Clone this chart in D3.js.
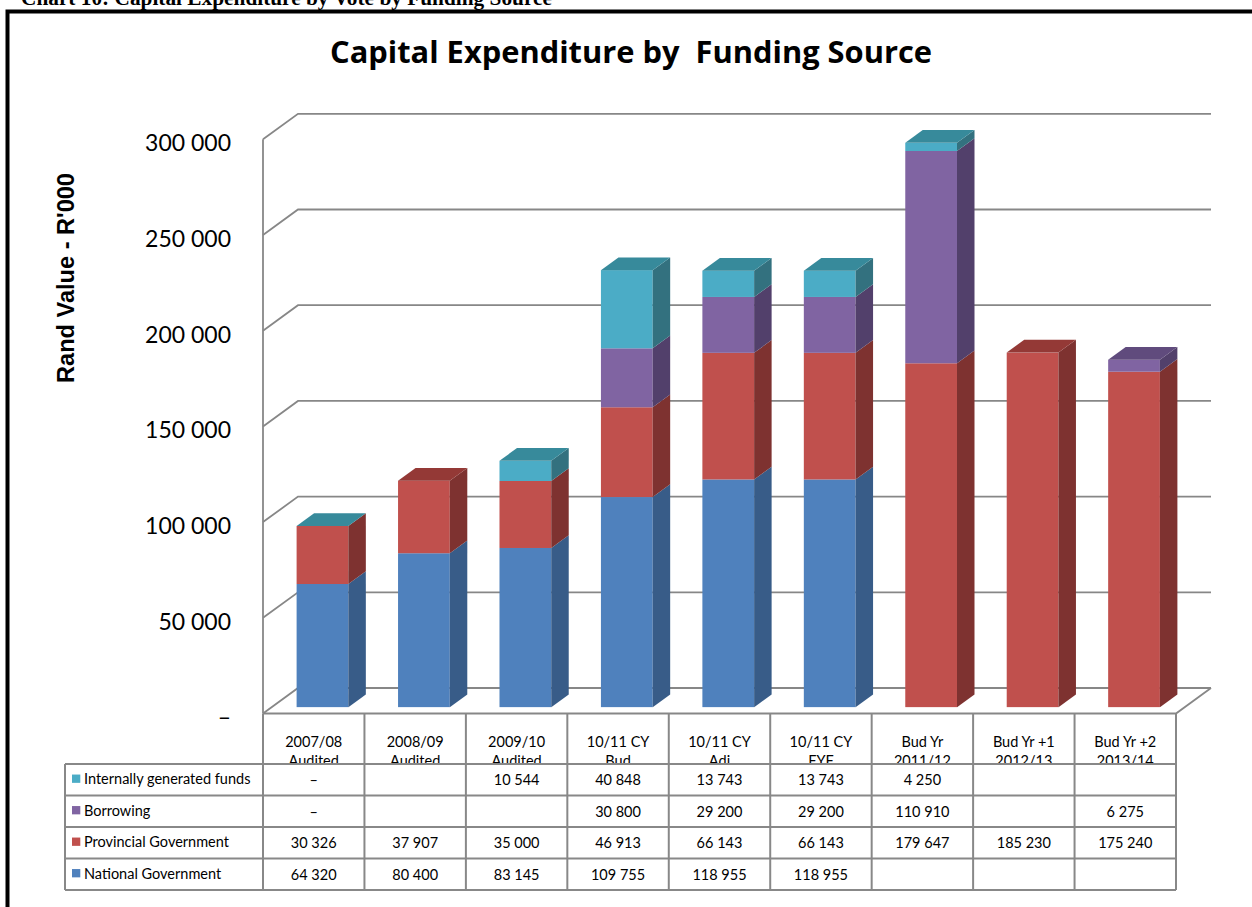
<!DOCTYPE html>
<html>
<head>
<meta charset="utf-8">
<script src="https://cdn.jsdelivr.net/npm/d3@7"></script>
<style>
  html, body { margin: 0; padding: 0; background: #fff; }
  svg { display: block; }
  text { font-family: Lato, "Open Sans", sans-serif; fill: #000; }
</style>
</head>
<body>
<svg id="chart" width="1252" height="907"></svg>
<script>
// ---- data (R'000) ----
const categories = [
  ["2007/08", "Audited"], ["2008/09", "Audited"], ["2009/10", "Audited"],
  ["10/11 CY", "Bud"], ["10/11 CY", "Adj"], ["10/11 CY", "FYF"],
  ["Bud Yr", "2011/12"], ["Bud Yr +1", "2012/13"], ["Bud Yr +2", "2013/14"]
];
const seriesNames = ["National Government", "Provincial Government", "Borrowing", "Internally generated funds"];
// null = blank cell, 0 = dash
const nationalGov   = [64320, 80400, 83145, 109755, 118955, 118955, null, null, null];
const provincialGov = [30326, 37907, 35000, 46913, 66143, 66143, 179647, 185230, 175240];
const borrowing     = [0, null, null, 30800, 29200, 29200, 110910, null, 6275];
const internalFunds = [0, null, 10544, 40848, 13743, 13743, 4250, null, null];
const yTicks = [0, 50000, 100000, 150000, 200000, 250000, 300000];

const seriesValues = [nationalGov, provincialGov, borrowing, internalFunds];
const palette = [
  { front: "#4F81BD", side: "#385C88", top: "#41699B" },
  { front: "#C0504D", side: "#7E3230", top: "#943936" },
  { front: "#8064A2", side: "#52406B", top: "#604B7D" },
  { front: "#4BACC6", side: "#33717F", top: "#378A9B" }
];

const svg = d3.select("#chart");
const n = categories.length;

// scale a text's font size so it spans the given width
function fitWidth(sel, w) {
  const len = sel.node().getComputedTextLength();
  const fs = parseFloat(sel.style("font-size"));
  sel.style("font-size", (fs * w / len).toFixed(2) + "px");
}

// plot geometry: front floor edge and 3-D depth offset
const X0 = 263, X1 = 1176, YB = 713.5, YT = 139.3;
const DX = 35, DY = -25.5;
const frontK = 0.25, backK = 0.75;

const x = d3.scaleBand().domain(d3.range(n)).range([X0, X1]).paddingInner(0.49).paddingOuter(0.245);
const col = d3.scaleBand().domain(d3.range(n)).range([X0, X1]);
const y = d3.scaleLinear().domain([0, 300000]).range([YB, YT]);
const num = v => v == null ? "" : v === 0 ? "\u2013" : d3.format(",")(v).replace(/,/g, " ");

// page frame and caption
const caption = svg.append("text").attr("x", 21).attr("y", 4.5)
  .style("font-family", "'Liberation Serif', 'Times New Roman', serif").style("font-weight", "bold").style("font-size", "20px")
  .text("Chart 10: Capital Expenditure by Vote by Funding Source");
fitWidth(caption, 531);
svg.append("rect").attr("x", 7.5).attr("y", 11.5).attr("width", 1400).attr("height", 1000)
  .attr("fill", "none").attr("stroke", "#000").attr("stroke-width", 4);

// title
const title = svg.append("text").attr("x", 631).attr("y", 63).attr("text-anchor", "middle")
  .style("font-family", "'Open Sans', sans-serif")
  .style("font-weight", "bold").style("font-size", "29px").style("white-space", "pre")
  .text("Capital Expenditure by  Funding Source");
fitWidth(title, 602);

// axis title
const yTitle = svg.append("text").attr("transform", "translate(74,278) rotate(-90)").attr("text-anchor", "middle")
  .style("font-family", "'Liberation Sans', Arial, sans-serif")
  .style("font-weight", "bold").style("font-size", "20px")
  .text("Rand Value - R'000");
fitWidth(yTitle, 210);

// walls and gridlines
const wall = svg.append("g").attr("fill", "none").attr("stroke", "#878787").attr("stroke-width", 1.8);
wall.selectAll("path.grid").data(yTicks).join("path").attr("class", "grid")
  .attr("d", t => `M${X0},${y(t)}L${X0 + DX},${y(t) + DY}L${X1 + DX},${y(t) + DY}`);
wall.append("path").attr("d", `M${X0},${y(0)}L${X0},${y(300000)}`);
wall.append("path").attr("d", `M${X0},${YB}L${X1},${YB}L${X1 + DX},${YB + DY}`);

// value axis labels
const axis = d3.axisLeft(y).tickValues(yTicks).tickSize(0).tickPadding(0)
  .tickFormat(t => t === 0 ? "\u2013" : num(t));
svg.append("g").attr("transform", "translate(231,4)").call(axis)
  .call(g => g.select(".domain").remove())
  .call(g => g.selectAll("text").style("font-family", "Lato, sans-serif").style("font-size", "23px").attr("fill", "#000"));

// bars
const bars = svg.append("g");
d3.range(n).forEach(i => {
  let base = 0;
  const segs = [];
  seriesValues.forEach((vals, s) => {
    const v = vals[i];
    if (v == null) return;
    segs.push({ s, v0: base, v1: base + v });
    base += v;
  });
  const xl = x(i) + DX * frontK, xr = xl + x.bandwidth();
  const sdx = DX * (backK - frontK), sdy = DY * (backK - frontK);
  const yf = v => y(v) + DY * frontK;
  const g = bars.append("g");
  segs.forEach(d => {
    if (d.v1 === d.v0) return;
    g.append("rect").attr("x", xl).attr("y", yf(d.v1)).attr("width", xr - xl).attr("height", yf(d.v0) - yf(d.v1))
      .attr("fill", palette[d.s].front);
    g.append("path").attr("fill", palette[d.s].side)
      .attr("d", `M${xr},${yf(d.v0)}L${xr + sdx},${yf(d.v0) + sdy}L${xr + sdx},${yf(d.v1) + sdy}L${xr},${yf(d.v1)}Z`);
  });
  const topSeg = segs[segs.length - 1];
  const yt = yf(topSeg.v1);
  g.append("path").attr("fill", palette[topSeg.s].top)
    .attr("d", `M${xl},${yt}L${xl + sdx},${yt + sdy}L${xr + sdx},${yt + sdy}L${xr},${yt}Z`);
});

// data table
const rowTop = [764, 795.5, 827, 858.5, 890];
const tableLeft = 65;
const tableFont = "14.5px";
const tbl = svg.append("g");
const lineColor = "#888";
// header cells
const header = tbl.append("g");
header.append("clipPath").attr("id", "hdrClip").append("rect")
  .attr("x", X0).attr("y", YB).attr("width", X1 - X0).attr("height", rowTop[0] - YB - 1);
const hdrText = header.append("g").attr("clip-path", "url(#hdrClip)");
categories.forEach((c, i) => {
  c.forEach((line, k) => {
    hdrText.append("text").attr("x", col(i) + col.bandwidth() / 2).attr("y", 746.5 + k * 19.5)
      .attr("text-anchor", "middle").style("font-size", tableFont).text(line);
  });
});
// rows: top to bottom
const rowOrder = [3, 2, 1, 0];
rowOrder.forEach((s, r) => {
  const cy = (rowTop[r] + rowTop[r + 1]) / 2;
  tbl.append("rect").attr("x", 72).attr("y", cy - 5.2).attr("width", 8.3).attr("height", 8.3)
    .attr("fill", palette[s].front);
  tbl.append("text").attr("x", 84).attr("y", cy + 4.5).style("font-size", tableFont).text(seriesNames[s]);
  seriesValues[s].forEach((v, i) => {
    tbl.append("text").attr("x", col(i) + col.bandwidth() / 2).attr("y", cy + 5.5)
      .attr("text-anchor", "middle").style("font-size", tableFont).text(num(v));
  });
});
// grid lines of the table
const tl = tbl.append("g").attr("stroke", lineColor).attr("stroke-width", 2).attr("fill", "none");
rowTop.forEach(yy => tl.append("line").attr("x1", tableLeft).attr("x2", X1).attr("y1", yy).attr("y2", yy));
tl.append("line").attr("x1", tableLeft).attr("x2", tableLeft).attr("y1", rowTop[0]).attr("y2", rowTop[4]);
d3.range(n + 1).forEach(i => {
  const xx = i < n ? col(i) : X1;
  tl.append("line").attr("x1", xx).attr("x2", xx).attr("y1", YB).attr("y2", rowTop[4]);
});
</script>
</body>
</html>
